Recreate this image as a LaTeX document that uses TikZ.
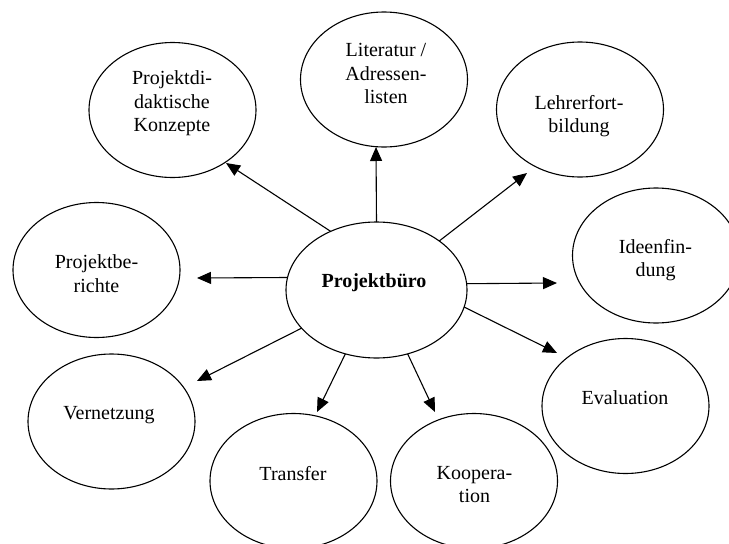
\documentclass[tikz,border=0pt]{standalone}
\usepackage{fontspec}
\setmainfont{Liberation Serif}
\usetikzlibrary{shapes.geometric,arrows.meta}

\tikzset{
  topic/.style={draw, line width=1.1pt, ellipse, inner sep=0pt, outer sep=0pt,
    minimum width=167pt, minimum height=135pt},
  hub/.style={topic, minimum width=181pt, minimum height=136pt},
  caption/.style={align=center, inner sep=0pt,
    font=\fontsize{20}{23.5}\selectfont},
  link/.style={line width=1.1pt, -{Triangle[length=14pt,width=12pt]}}
}

\begin{document}
\begin{tikzpicture}[x=1pt,y=-1pt]
  \useasboundingbox (0,0) rectangle (729,544);

  % ellipses
  \node[hub]   (pb)   at (376.5,290) {};
  \node[topic] (pdk)  at (172.5,110) {};
  \node[topic] (lit)  at (384,79.5)  {};
  \node[topic] (lehr) at (580,109.5) {};
  \node[topic] (idee) at (656,255.5) {};
  \node[topic] (pbe)  at (96.5,270)  {};
  \node[topic] (vern) at (111.5,421.5) {};
  \node[topic] (trans) at (293.5,481) {};
  \node[topic] (koop) at (474,481)   {};
  \node[topic] (eval) at (625.5,406) {};

  % labels
  \node[caption, font=\fontsize{20}{23.5}\selectfont\bfseries] (tpb) at (374,283) {Projektbüro};
  \node[caption] (tpdk)  at (172,103.5) {Projektdi-\\daktische\\Konzepte};
  \node[caption] (tlit)  at (386,73.5)  {Literatur /\\Adressen-\\listen};
  \node[caption] (tlehr) at (579,116)   {Lehrerfort-\\bildung};
  \node[caption] (tidee) at (655.5,260) {Ideenfin-\\dung};
  \node[caption] (tpbe)  at (96.5,273.5) {Projektbe-\\richte};
  \node[caption] (tvern) at (109,415)   {Vernetzung};
  \node[caption] (ttrans) at (293,474)  {Transfer};
  \node[caption] (tkoop) at (474.5,484.5) {Koopera-\\tion};
  \node[caption] (teval) at (625,398)   {Evaluation};

  % arrow tips
  \coordinate (apdk)  at (226,163);
  \coordinate (alit)  at (376,147);
  \coordinate (alehr) at (527,173);
  \coordinate (aidee) at (557,283);
  \coordinate (aeval) at (557,353);
  \coordinate (akoop) at (435,412);
  \coordinate (atrans) at (317,412);
  \coordinate (avern) at (197,381);
  \coordinate (apbe)  at (197,278);

  % connectors from the hub
  \draw[link] (pb.128.6) -- (apdk);
  \draw[link] (pb.90)    -- (alit);
  \draw[link] (pb.38.5)  -- (alehr);
  \draw[link] (pb.4.4)   -- (aidee);
  \draw[link] (pb.-11.2) -- (aeval);
  \draw[link] (pb.-64.5) -- (akoop);
  \draw[link] (pb.-116.2) -- (atrans);
  \draw[link] (pb.207)   -- (avern);
  \draw[link] (pb.172.4) -- (apbe);
\end{tikzpicture}
\end{document}
